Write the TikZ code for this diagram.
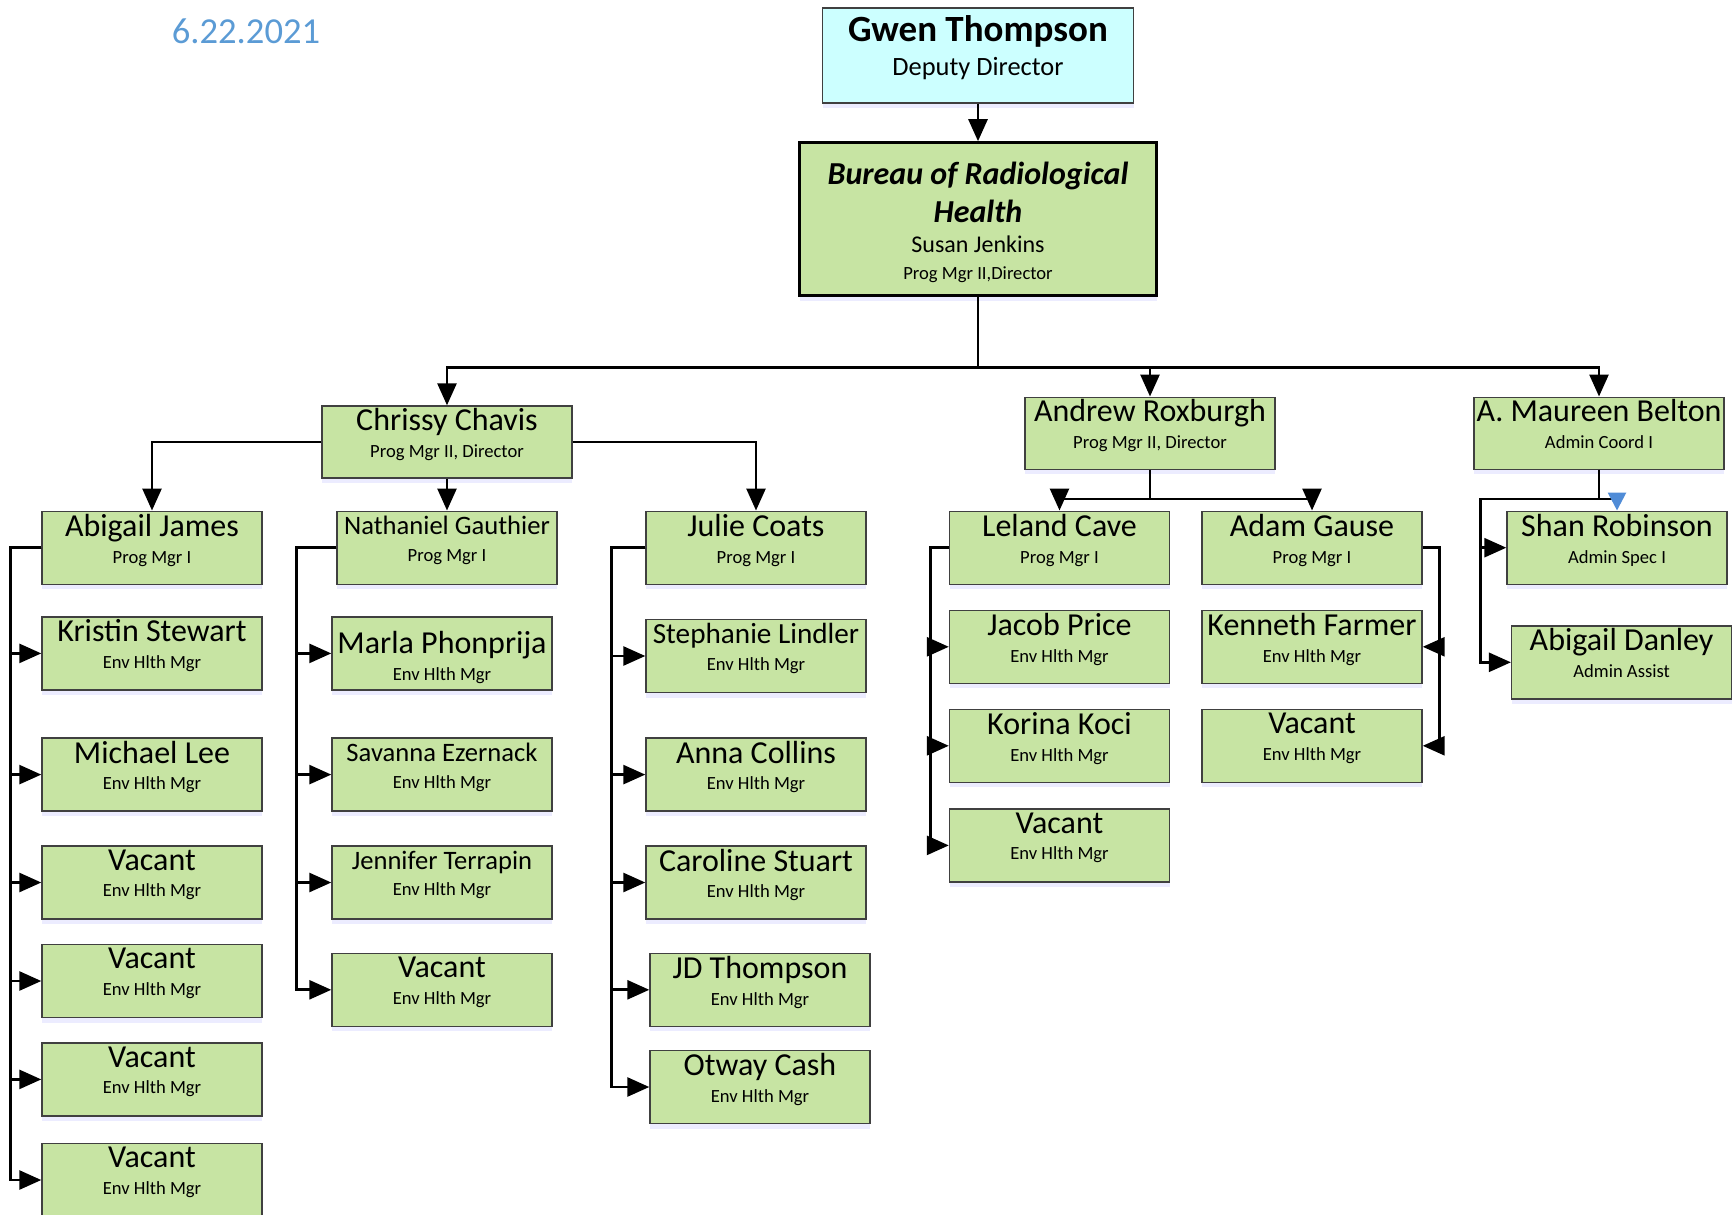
\documentclass[tikz,border=0pt]{standalone}
\usepackage{fontspec}
\setmainfont{Carlito}
\usetikzlibrary{arrows.meta,shadows}
\definecolor{staffgreen}{RGB}{199,228,163}
\definecolor{deputycyan}{RGB}{204,255,255}
\definecolor{datecol}{RGB}{91,155,213}
\definecolor{pickblue}{RGB}{80,140,215}
% name line over title line
\newcommand{\who}[3][16]{{\fontsize{#1}{#1}\selectfont #2}\\#3\rule[-9.2pt]{0pt}{9.2pt}}

\begin{document}
\begin{tikzpicture}[x=0.5pt,y=-0.5pt,
  box/.style={draw=black!75, fill=staffgreen, line width=0.7pt, minimum width=110pt,
    minimum height=36.5pt, inner sep=0pt, align=center, font=\fontsize{9.3}{13.4}\selectfont,
    drop shadow={shadow xshift=0pt, shadow yshift=-2.5pt, fill=blue!30, opacity=.25}},
  head/.style={box, minimum width=125pt, minimum height=36pt},
  conn/.style={line width=1.35pt, -{Triangle[length=11pt,width=9.5pt]}}]
\useasboundingbox (0,0) rectangle (1735,1215);

\node[text=datecol, font=\fontsize{18.3}{18.3}\selectfont] (date) at (246,31) {6.22.2021};

\node[box, fill=deputycyan, minimum width=155.5pt, minimum height=47.5pt,
  font=\fontsize{13.2}{17.1}\selectfont] (thompson) at (978,55.3)
  {{\bfseries\fontsize{18.5}{18.5}\selectfont Gwen Thompson}\\Deputy Director\rule[-10pt]{0pt}{10pt}};
\node[box, draw=black, line width=1.3pt, minimum width=178.5pt, minimum height=76.5pt,
  font=\fontsize{9.3}{13.6}\selectfont] (bureau) at (978,219)
  {{\fontsize{16}{16}\selectfont\bfseries\itshape\rule{0pt}{14.5pt}Bureau of Radiological}\\[4.2pt]
   {\fontsize{16}{16}\selectfont\bfseries\itshape Health}\\[1.4pt]
   {\fontsize{12}{12}\selectfont Susan Jenkins}\\Prog Mgr II,Director};
\draw[conn] (thompson.south) -- (bureau.south |- thompson.south) -- (bureau.north);

% directors
\node[head] (chavis) at (447,442) {\who{Chrissy Chavis}{Prog Mgr II, Director}};
\node[head] (roxburgh) at (1150,433.2) {\who{Andrew Roxburgh}{Prog Mgr II, Director}};
\node[head] (belton) at (1599,433.2) {\who{A. Maureen Belton}{Admin Coord I}};
\draw[conn] (bureau.south) -- ++(0,71) -| (chavis.north);
\draw[conn] (bureau.south) -- ++(0,71) -| (roxburgh.north);
\draw[conn] (bureau.south) -- ++(0,71) -| (belton.north);

% Chavis group
\node[box] (ajames) at (152,547.7) {\who{Abigail James}{Prog Mgr I}};
\node[box] (gauthier) at (447,547.7) {\who[13.3]{Nathaniel Gauthier}{Prog Mgr I}};
\node[box] (coats) at (756,547.7) {\who{Julie Coats}{Prog Mgr I}};
\draw[conn] (chavis.west) -| (ajames.north);
\draw[conn] (chavis.south) -- (gauthier.north);
\draw[conn] (chavis.east) -| (coats.north);

\node[box] (stewart) at (152,653.4) {\who{Kristin Stewart}{Env Hlth Mgr}};
\node[box] (lee) at (152,774.6) {\who{Michael Lee}{Env Hlth Mgr}};
\node[box] (vacA) at (152,882.5) {\who{Vacant}{Env Hlth Mgr}};
\node[box] (vacB) at (152,981) {\who{Vacant}{Env Hlth Mgr}};
\node[box] (vacC) at (152,1079.4) {\who{Vacant}{Env Hlth Mgr}};
\node[box] (vacD) at (152,1180) {\who{Vacant}{Env Hlth Mgr}};
\draw[conn] (ajames.west) -- ++(-31,0) |- (stewart.west);
\draw[conn] (ajames.west) -- ++(-31,0) |- (lee.west);
\draw[conn] (ajames.west) -- ++(-31,0) |- (vacA.west);
\draw[conn] (ajames.west) -- ++(-31,0) |- (vacB.west);
\draw[conn] (ajames.west) -- ++(-31,0) |- (vacC.west);
\draw[conn] (ajames.west) -- ++(-31,0) |- (vacD.west);

\node[box] (phonprija) at (442,653.4)
  {{\fontsize{16}{16}\selectfont\rule{0pt}{15.5pt}Marla Phonprija}\\Env Hlth Mgr};
\node[box] (ezernack) at (442,774.6) {\who[13.3]{Savanna Ezernack}{Env Hlth Mgr}};
\node[box] (terrapin) at (442,882.5) {\who[13.3]{Jennifer Terrapin}{Env Hlth Mgr}};
\node[box] (vacE) at (442,989.8) {\who{Vacant}{Env Hlth Mgr}};
\draw[conn] (gauthier.west) -- ++(-40,0) |- (phonprija.west);
\draw[conn] (gauthier.west) -- ++(-40,0) |- (ezernack.west);
\draw[conn] (gauthier.west) -- ++(-40,0) |- (terrapin.west);
\draw[conn] (gauthier.west) -- ++(-40,0) |- (vacE.west);

\node[box] (lindler) at (756,656) {\who[14.6]{Stephanie Lindler}{Env Hlth Mgr}};
\node[box] (collins) at (756,774.6) {\who{Anna Collins}{Env Hlth Mgr}};
\node[box] (stuart) at (756,882.5) {\who{Caroline Stuart}{Env Hlth Mgr}};
\node[box] (jdthompson) at (760,989.8) {\who{JD Thompson}{Env Hlth Mgr}};
\node[box] (cash) at (760,1087) {\who{Otway Cash}{Env Hlth Mgr}};
\draw[conn] (coats.west) -- ++(-34,0) |- (lindler.west);
\draw[conn] (coats.west) -- ++(-34,0) |- (collins.west);
\draw[conn] (coats.west) -- ++(-34,0) |- (stuart.west);
\draw[conn] (coats.west) -- ++(-34,0) |- (jdthompson.west);
\draw[conn] (coats.west) -- ++(-34,0) |- (cash.west);

% Roxburgh group
\node[box] (cave) at (1059.5,547.7) {\who{Leland Cave}{Prog Mgr I}};
\node[box] (gause) at (1312,547.7) {\who{Adam Gause}{Prog Mgr I}};
\draw[conn] (roxburgh.south) -- ++(0,29) -| (cave.north);
\draw[conn] (roxburgh.south) -- ++(0,29) -| (gause.north);

\node[box] (price) at (1059.5,646.8) {\who{Jacob Price}{Env Hlth Mgr}};
\node[box] (koci) at (1059.5,745.8) {\who{Korina Koci}{Env Hlth Mgr}};
\node[box] (vacF) at (1059.5,845.4) {\who{Vacant}{Env Hlth Mgr}};
\draw[conn] (cave.west) -- ++(-18,0) |- (price.west);
\draw[conn] (cave.west) -- ++(-18,0) |- (koci.west);
\draw[conn] (cave.west) -- ++(-18,0) |- (vacF.west);

\node[box] (farmer) at (1312,646.8) {\who{Kenneth Farmer}{Env Hlth Mgr}};
\node[box] (vacG) at (1312,745.8) {\who{Vacant}{Env Hlth Mgr}};
\draw[conn] (gause.east) -- ++(17,0) |- (farmer.east);
\draw[conn] (gause.east) -- ++(17,0) |- (vacG.east);

% Belton group
\node[box] (robinson) at (1617,547.7) {\who{Shan Robinson}{Admin Spec I}};
\node[box] (danley) at (1621.6,662.3) {\who{Abigail Danley}{Admin Assist}};
\draw[line width=1.35pt, -{Triangle[length=9pt,width=9pt,color=pickblue]}]
  (belton.south) -- ++(0,29) -| (robinson.north);
\draw[conn] (belton.south) -- ++(0,29) -- ++(-118.5,0) |- (robinson.west);
\draw[conn] (belton.south) -- ++(0,29) -- ++(-118.5,0) |- (danley.west);
\end{tikzpicture}
\end{document}
